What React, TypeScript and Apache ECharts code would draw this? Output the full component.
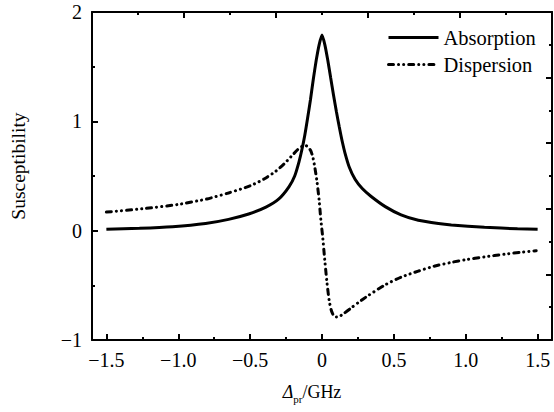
import React, { useEffect, useRef } from "react";
import * as echarts from "echarts";

// Absorption curve
const absX = [-1.5, -1.27, -1.04, -0.81, -0.65, -0.51, -0.39, -0.3, -0.23, -0.19, -0.16, -0.14, -0.12, -0.1, -0.08, -0.06, -0.04, -0.02, 0, 0.02, 0.04, 0.06, 0.08, 0.1, 0.12, 0.14, 0.16, 0.19, 0.23, 0.28, 0.34, 0.44, 0.55, 0.67, 0.81, 0.9, 1.13, 1.36, 1.5];
const absY = [0.012, 0.021, 0.036, 0.065, 0.103, 0.152, 0.215, 0.29, 0.4, 0.5, 0.63, 0.74, 0.87, 1.03, 1.2, 1.39, 1.56, 1.7, 1.79, 1.7, 1.56, 1.4, 1.24, 1.09, 0.95, 0.82, 0.71, 0.58, 0.47, 0.385, 0.315, 0.22, 0.145, 0.095, 0.065, 0.052, 0.031, 0.017, 0.012];

// Dispersion curve
const dispX = [-1.5, -1.25, -1.0, -0.8, -0.65, -0.5, -0.4, -0.32, -0.26, -0.21, -0.17, -0.14, -0.12, -0.1, -0.08, -0.065, -0.05, -0.035, -0.02, -0.008, 0.005, 0.02, 0.035, 0.05, 0.065, 0.08, 0.1, 0.12, 0.15, 0.2, 0.25, 0.32, 0.44, 0.55, 0.67, 0.78, 0.9, 1.0, 1.13, 1.27, 1.38, 1.49];
const dispY = [0.17, 0.2, 0.24, 0.29, 0.345, 0.41, 0.475, 0.545, 0.615, 0.685, 0.74, 0.77, 0.78, 0.77, 0.735, 0.68, 0.58, 0.45, 0.28, 0.1, -0.06, -0.28, -0.48, -0.64, -0.73, -0.775, -0.79, -0.785, -0.76, -0.71, -0.66, -0.595, -0.495, -0.425, -0.37, -0.325, -0.29, -0.265, -0.24, -0.215, -0.198, -0.183];

const xMajorTicks = [-1.5, -1.0, -0.5, 0, 0.5, 1.0, 1.5];
const xMinorTicks = [-1.25, -0.75, -0.25, 0.25, 0.75, 1.25];
const seriesNames = ["Absorption", "Dispersion"];

const FONT = '"Liberation Serif", "Times New Roman", serif';

const fmtX = (v: number) => (v === 0 ? "0" : v.toFixed(1).replace("-", "\u2212"));
const fmtY = (v: number) => String(v).replace("-", "\u2212");

export default function App() {
  const ref = useRef<HTMLDivElement>(null);
  useEffect(() => {
    if (!ref.current) return;
    const chart = echarts.init(ref.current, undefined, { renderer: "svg" });
    const black = "#000000";
    const axisLine = { show: true, onZero: false, lineStyle: { color: black, width: 2 } };
    const tick = { show: true, inside: true, length: 6, lineStyle: { color: black, width: 2 } };
    const minor = { show: true, splitNumber: 2, length: 3, lineStyle: { color: black, width: 2 } };
    chart.setOption({
      animation: false,
      backgroundColor: "#fff",
      textStyle: { color: black, fontFamily: FONT },
      grid: { left: 92, right: 2, top: 12, bottom: 72, containLabel: false },
      legend: {
        orient: "vertical",
        left: 382,
        top: 22,
        itemWidth: 50,
        itemHeight: 14,
        itemGap: 6,
        itemStyle: { opacity: 0 },
        lineStyle: { width: 3 },
        textStyle: { fontFamily: FONT, fontSize: 20.5, color: black, lineHeight: 20 },
        data: seriesNames,
      },
      xAxis: [
        {
          type: "value",
          position: "bottom",
          min: -1.6,
          max: 1.6,
          axisLine,
          axisTick: { ...tick, customValues: xMajorTicks },
          axisLabel: {
            customValues: xMajorTicks,
            formatter: fmtX,
            fontFamily: FONT,
            fontSize: 20,
            color: black,
            margin: 10,
          },
          splitLine: { show: false },
          name: "{d|\u0394}{s|pr}{n|/GHz}",
          nameLocation: "middle",
          nameGap: 40,
          nameTextStyle: {
            fontFamily: FONT,
            fontSize: 18,
            color: black,
            padding: [0, 20, 0, 0],
            rich: {
              d: { fontFamily: FONT, fontSize: 18, fontStyle: "italic", color: black, lineHeight: 24, verticalAlign: "middle" },
              s: { fontFamily: FONT, fontSize: 11, color: black, lineHeight: 12, verticalAlign: "bottom" },
              n: { fontFamily: FONT, fontSize: 18, color: black, lineHeight: 24, verticalAlign: "middle" },
            },
          },
        },
        {
          type: "value",
          position: "bottom",
          min: -1.6,
          max: 1.6,
          axisLine: { show: false, onZero: false },
          axisTick: { ...tick, length: 3, customValues: xMinorTicks },
          axisLabel: { show: false },
          splitLine: { show: false },
        },
        {
          type: "value",
          position: "top",
          min: 0,
          max: 5,
          interval: 1,
          axisLine,
          axisTick: tick,
          minorTick: minor,
          axisLabel: { show: false },
          splitLine: { show: false },
        },
      ],
      yAxis: [
        {
          type: "value",
          position: "left",
          min: -1,
          max: 2,
          interval: 1,
          axisLine,
          axisTick: tick,
          minorTick: minor,
          axisLabel: { formatter: fmtY, fontFamily: FONT, fontSize: 20, color: black, margin: 10 },
          splitLine: { show: false },
          name: "Susceptibility",
          nameLocation: "middle",
          nameGap: 64,
          nameRotate: 90,
          nameTextStyle: { fontFamily: FONT, fontSize: 19.5, color: black, padding: [0, 0, 0, 20] },
        },
        {
          type: "value",
          position: "right",
          min: 0,
          max: 5,
          interval: 1,
          axisLine,
          axisTick: tick,
          minorTick: minor,
          axisLabel: { show: false },
          splitLine: { show: false },
        },
      ],
      series: [
        {
          name: seriesNames[0],
          type: "line",
          xAxisIndex: 0,
          yAxisIndex: 0,
          data: absX.map((x, i) => [x, absY[i]]),
          showSymbol: false,
          symbol: "none",
          smooth: 0.2,
          lineStyle: { color: black, width: 3 },
          itemStyle: { color: black },
        },
        {
          name: seriesNames[1],
          type: "line",
          xAxisIndex: 0,
          yAxisIndex: 0,
          data: dispX.map((x, i) => [x, dispY[i]]),
          showSymbol: false,
          symbol: "none",
          smooth: 0.2,
          lineStyle: { color: black, width: 3, type: [5, 5, 0.1, 5, 0.1, 5], cap: "round" },
          itemStyle: { color: black },
        },
      ],
    });
    return () => chart.dispose();
  }, []);
  return <div ref={ref} style={{ width: 554, height: 412, position: "absolute", left: 0, top: 0 }} />;
}
